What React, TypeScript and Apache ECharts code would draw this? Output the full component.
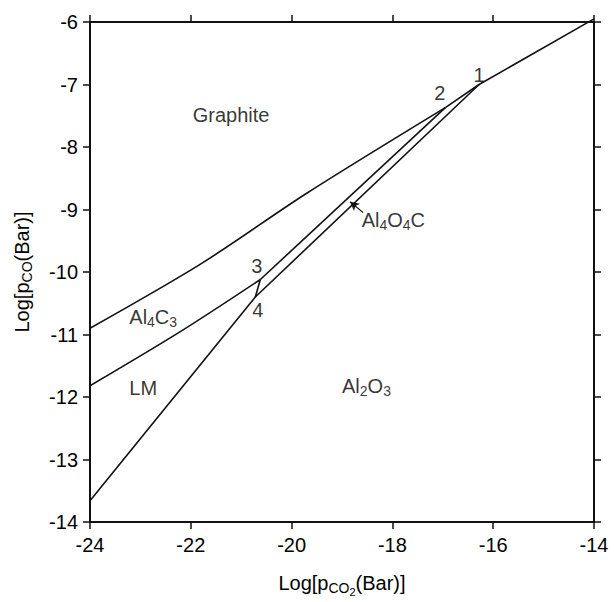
import React, { useEffect, useRef } from "react";
import * as echarts from "echarts";

// Phase boundary lines [log pCO2, log pCO]
const upperCurve = [[-24, -10.9], [-21.8, -9.87], [-19.7, -8.74], [-16.95, -7.37]];
const upperStraight = [[-16.95, -7.37], [-16.28, -7.0], [-14, -5.95]];
const middleCurve = [[-24, -11.82], [-22.2, -10.95], [-20.62, -10.12]];
const middleStraight = [[-20.62, -10.12], [-16.95, -7.37]];
const shortBoundary = [[-20.62, -10.12], [-20.72, -10.4]];
const lowerBoundary = [[-24, -13.66], [-20.72, -10.4], [-16.28, -7.0]];
const arrowFrom = [-18.58, -9.05];
const arrowTo = [-18.84, -8.875];

// Field labels: [x, y, text, align]
const fieldLabels: [number, number, string, string][] = [
  [-21.2, -7.48, "{n|Graphite}", "center"],
  [-16.28, -6.85, "{n|1}", "center"],
  [-17.06, -7.14, "{n|2}", "center"],
  [-20.69, -9.9, "{n|3}", "center"],
  [-20.67, -10.6, "{n|4}", "center"],
  [-18.61, -9.17, "{n|Al}{s|4}{n|O}{s|4}{n|C}", "left"],
  [-23.22, -10.72, "{n|Al}{s|4}{n|C}{s|3}", "left"],
  [-23.22, -11.85, "{n|LM}", "left"],
  [-19.0, -11.82, "{n|Al}{s|2}{n|O}{s|3}", "left"],
];

const xMin = -24, xMax = -14, xStep = 2;
const yMin = -14, yMax = -6, yStep = 1;

const FONT = "'Liberation Sans', Arial, Helvetica, sans-serif";
const INK = "#000";

const rich = {
  n: { fontSize: 20, fontFamily: FONT, color: INK },
  s: { fontSize: 14, fontFamily: FONT, color: INK, padding: [10, 0, 0, 0] },
  ss: { fontSize: 11, fontFamily: FONT, color: INK, padding: [18, 0, 0, 0] },
};

export default function App() {
  const ref = useRef<HTMLDivElement>(null);
  useEffect(() => {
    if (!ref.current) return;
    const chart = echarts.init(ref.current, null, { renderer: "svg" });
    const lineStyle = { color: "#111", width: 1.6 };
    const mkLine = (data: number[][], smooth: number | boolean = false) => ({
      type: "line",
      data,
      symbol: "none",
      smooth,
      clip: false,
      lineStyle,
      silent: true,
    });
    const axisCommon = {
      axisLine: { show: true, onZero: false, lineStyle: { color: "#111", width: 2 } },
      axisTick: { show: true, inside: false, length: 7, lineStyle: { color: "#111", width: 1.5 } },
      splitLine: { show: false },
    };
    chart.setOption({
      animation: false,
      backgroundColor: "#fff",
      grid: { left: 90, right: 20, top: 22, bottom: 68 },
      xAxis: [
        {
          type: "value", min: xMin, max: xMax, interval: xStep, position: "bottom",
          ...axisCommon,
          axisLabel: { fontSize: 20, fontFamily: FONT, color: INK, margin: 13 },
          name: "{n|Log[p}{s|CO}{ss|2}{n|(Bar)]}",
          nameLocation: "middle",
          nameGap: 46,
          nameTextStyle: { rich },
        },
        {
          type: "value", min: xMin, max: xMax, interval: xStep, position: "top",
          ...axisCommon,
          axisLabel: { show: false },
        },
      ],
      yAxis: [
        {
          type: "value", min: yMin, max: yMax, interval: yStep, position: "left",
          ...axisCommon,
          axisLabel: { fontSize: 20, fontFamily: FONT, color: INK, margin: 12 },
          name: "{n|Log[p}{s|CO}{n|(Bar)]}",
          nameLocation: "middle",
          nameGap: 56,
          nameRotate: 90,
          nameTextStyle: { rich },
        },
        {
          type: "value", min: yMin, max: yMax, interval: yStep, position: "right",
          ...axisCommon,
          axisLabel: { show: false },
        },
      ],
      series: [
        mkLine(upperCurve, 0.3),
        mkLine(upperStraight),
        mkLine(middleCurve, 0.3),
        mkLine(middleStraight),
        mkLine(shortBoundary),
        mkLine(lowerBoundary),
        {
          type: "line",
          data: [],
          silent: true,
          markLine: {
            silent: true,
            animation: false,
            symbol: ["none", "arrow"],
            symbolSize: [7, 9],
            label: { show: false },
            lineStyle: { color: "#111", width: 1.3, type: "solid" },
            data: [[{ coord: arrowFrom }, { coord: arrowTo }]],
          },
        } as any,
        {
          type: "scatter",
          symbolSize: 0,
          silent: true,
          data: fieldLabels.map(([x, y, t, align]) => ({
            value: [x, y],
            label: {
              show: true,
              position: [0, 0],
              align,
              verticalAlign: "middle",
              formatter: t,
              rich,
            },
          })),
        },
      ],
    });
    return () => chart.dispose();
  }, []);
  return (
    <div
      ref={ref}
      style={{ position: "absolute", left: 0, top: 0, width: 614, height: 602, background: "#fff" }}
    />
  );
}
